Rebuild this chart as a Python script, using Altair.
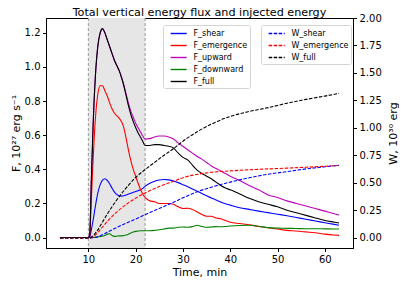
import altair as alt
import pandas as pd

# ---- data ----
t_F = [4, 10, 10.3, 10.6, 11, 11.5, 12, 12.5, 13, 13.5, 14, 14.5, 15, 15.5, 16, 16.5, 17, 17.5,
       18, 18.5, 19, 19.5, 20, 20.5, 21, 21.5, 22, 23, 24, 25, 26, 27, 28, 29, 30, 31, 32, 33,
       34, 35, 36, 37, 38, 39, 40, 42, 44, 46, 48, 50, 52, 54, 56, 58, 60, 62, 63]

F_shear = [0, 0, 0.005, 0.04, 0.10, 0.185, 0.26, 0.31, 0.337, 0.345, 0.335, 0.315, 0.29, 0.268,
           0.253, 0.245, 0.243, 0.245, 0.25, 0.255, 0.26, 0.265, 0.27, 0.275, 0.28, 0.288, 0.30,
           0.318, 0.33, 0.337, 0.34, 0.338, 0.332, 0.322, 0.31, 0.298, 0.285, 0.272, 0.258, 0.245,
           0.232, 0.22, 0.208, 0.198, 0.19, 0.175, 0.165, 0.155, 0.146, 0.137, 0.128, 0.118, 0.107,
           0.097, 0.087, 0.077, 0.072]

F_emergence = [0, 0, 0.01, 0.2, 0.45, 0.70, 0.84, 0.89, 0.89, 0.86, 0.83, 0.79, 0.755, 0.73,
               0.715, 0.70, 0.68, 0.645, 0.58, 0.51, 0.45, 0.40, 0.36, 0.32, 0.285, 0.255, 0.235,
               0.215, 0.21, 0.20, 0.20, 0.20, 0.195, 0.18, 0.17, 0.172, 0.165, 0.15, 0.135, 0.125,
               0.125, 0.115, 0.11, 0.10, 0.09, 0.082, 0.075, 0.065, 0.057, 0.05, 0.042, 0.038,
               0.033, 0.028, 0.02, 0.015, 0.013]

F_upward = [0, 0, 0.02, 0.30, 0.65, 0.95, 1.12, 1.20, 1.225, 1.20, 1.16, 1.12, 1.08, 1.04,
            1.01, 0.98, 0.94, 0.895, 0.84, 0.785, 0.74, 0.705, 0.67, 0.645, 0.62, 0.595, 0.578,
            0.58, 0.59, 0.595, 0.595, 0.59, 0.578, 0.555, 0.535, 0.515, 0.495, 0.475, 0.46, 0.44,
            0.42, 0.405, 0.39, 0.375, 0.36, 0.335, 0.305, 0.28, 0.25, 0.235, 0.215, 0.20, 0.185,
            0.17, 0.155, 0.14, 0.132]

F_downward = [0, 0, 0, 0, 0, 0.002, 0.004, 0.006, 0.008, 0.012, 0.02, 0.022, 0.012, 0.007,
              0.008, 0.01, 0.01, 0.012, 0.015, 0.02, 0.027, 0.032, 0.036, 0.038, 0.04, 0.04, 0.04,
              0.04, 0.042, 0.046, 0.05, 0.055, 0.055, 0.06, 0.062, 0.06, 0.064, 0.072, 0.065, 0.06,
              0.062, 0.064, 0.063, 0.065, 0.068, 0.071, 0.072, 0.066, 0.058, 0.055, 0.054, 0.053,
              0.052, 0.052, 0.051, 0.05, 0.05]

F_full = [0, 0, 0.02, 0.30, 0.65, 0.95, 1.12, 1.20, 1.225, 1.20, 1.16, 1.12, 1.08, 1.04,
          1.01, 0.98, 0.94, 0.89, 0.83, 0.77, 0.72, 0.68, 0.645, 0.615, 0.59, 0.565, 0.54,
          0.54, 0.545, 0.545, 0.54, 0.535, 0.525, 0.495, 0.47, 0.455, 0.425, 0.395, 0.375, 0.36,
          0.345, 0.325, 0.305, 0.29, 0.28, 0.255, 0.23, 0.21, 0.195, 0.18, 0.16, 0.145, 0.13,
          0.115, 0.10, 0.09, 0.085]

t_W = [4, 10, 11, 12, 13, 14, 16, 18, 20, 22, 24, 26, 28, 30, 33, 36, 40, 44, 48, 52, 56, 60, 63]
W_shear = [0, 0, 0.003, 0.012, 0.03, 0.052, 0.095, 0.135, 0.172, 0.212, 0.25, 0.287, 0.325,
           0.365, 0.42, 0.462, 0.508, 0.547, 0.58, 0.603, 0.628, 0.647, 0.661]
W_emergence = [0, 0, 0.012, 0.05, 0.10, 0.15, 0.235, 0.305, 0.362, 0.41, 0.45, 0.485, 0.515,
               0.548, 0.578, 0.597, 0.61, 0.62, 0.628, 0.635, 0.643, 0.652, 0.66]
W_full = [0, 0, 0.02, 0.074, 0.145, 0.217, 0.345, 0.455, 0.55, 0.622, 0.687, 0.752, 0.812,
          0.88, 0.965, 1.035, 1.105, 1.15, 1.185, 1.225, 1.26, 1.29, 1.315]

F_names = ["F_shear", "F_emergence", "F_upward", "F_downward", "F_full"]
F_colors = ["#0000ff", "#ff0000", "#bf00bf", "#008000", "#000000"]
W_names = ["W_shear", "W_emergence", "W_full"]
W_colors = ["#0000ff", "#ff0000", "#000000"]

title_text = "Total vertical energy flux and injected energy"
span = [10, 22]
x_ticks = [10, 20, 30, 40, 50, 60]
F_ticks = [0.0, 0.2, 0.4, 0.6, 0.8, 1.0, 1.2]
W_ticks = [0.0, 0.25, 0.5, 0.75, 1.0, 1.25, 1.5, 1.75, 2.0]

# ---- tables ----
F_series = [F_shear, F_emergence, F_upward, F_downward, F_full]
W_series = [W_shear, W_emergence, W_full]
dfF = pd.DataFrame([{"t": t, "v": v, "s": n, "o": i}
                    for i, (n, vals) in enumerate(zip(F_names, F_series))
                    for t, v in zip(t_F, vals)])
dfW = pd.DataFrame([{"t": t, "v": v, "s": n, "o": i}
                    for i, (n, vals) in enumerate(zip(W_names, W_series))
                    for t, v in zip(t_W, vals)])
dfSpan = pd.DataFrame({"a": [span[0]], "b": [span[1]]})
dfEdges = pd.DataFrame({"t": span})
dfTitle = pd.DataFrame({"label": [title_text]})

W_PX, H_PX = 307, 230
FONT = "DejaVu Sans"
xscale = alt.Scale(domain=[1.05, 65.95], nice=False, zero=False)
xaxis = alt.Axis(values=x_ticks, title="Time, min", format="d", grid=False,
                 titleY=27, titleBaseline="alphabetic")

shade = alt.Chart(dfSpan).mark_rect(color="#e6e6e6").encode(
    x=alt.X("a:Q", scale=xscale, axis=xaxis), x2="b:Q")

edges = alt.Chart(dfEdges).mark_rule(color="#999999", strokeDash=[3, 2], strokeWidth=1).encode(
    x=alt.X("t:Q", scale=xscale, axis=xaxis))

legend_common = dict(title=None, orient="none", symbolType="M-1.6,0H1.6", symbolSize=100,
                     symbolStrokeWidth=1.4, labelFontSize=8, labelFont=FONT,
                     fillColor="white", strokeColor="#d5d5d5", cornerRadius=2,
                     padding=2.5, rowPadding=2, symbolOffset=7.2, labelOffset=8.7,
                     labelLimit=200)

Flines = alt.Chart(dfF).mark_line(strokeWidth=1.1, interpolate="monotone").encode(
    x=alt.X("t:Q", scale=xscale, axis=xaxis),
    y=alt.Y("v:Q", scale=alt.Scale(domain=[-0.0613, 1.2873], nice=False, zero=False),
            axis=alt.Axis(orient="left", values=F_ticks, format=".1f", grid=False,
                          title="F, 10²⁷ erg s⁻¹", titleX=-27, titleY=115,
                          titleAngle=270, titleBaseline="alphabetic", titleAlign="center")),
    color=alt.Color("s:N", scale=alt.Scale(domain=F_names, range=F_colors),
                    legend=alt.Legend(legendX=117, legendY=7, **legend_common)),
    order="o:Q",
)

Wlines = alt.Chart(dfW).mark_line(strokeWidth=1.1, strokeDash=[3.5, 1.5],
                                  interpolate="monotone").encode(
    x=alt.X("t:Q", scale=xscale, axis=xaxis),
    y=alt.Y("v:Q", scale=alt.Scale(domain=[-0.091, 2.0], nice=False, zero=False),
            axis=alt.Axis(orient="right", values=W_ticks, format=".2f", grid=False,
                          title="W, 10³⁰ erg", titleX=43, titleY=115,
                          titleAngle=270, titleBaseline="alphabetic", titleAlign="center")),
    color=alt.Color("s:N", scale=alt.Scale(domain=W_names, range=W_colors),
                    legend=alt.Legend(legendX=215, legendY=7, symbolDash=[3.5, 1.5],
                                      **legend_common)),
    order="o:Q",
)

title_mark = alt.Chart(dfTitle).mark_text(
    font=FONT, fontSize=11.2, color="black", align="center", baseline="alphabetic"
).encode(text="label:N", x=alt.value(W_PX / 2), y=alt.value(-2.4))

chart = alt.layer(shade, edges, Flines, Wlines, title_mark).resolve_scale(
    y="independent", color="independent"
).properties(
    width=W_PX, height=H_PX,
    autosize=alt.AutoSizeParams(type="none"),
    padding={"left": 38, "top": 10, "right": 46, "bottom": 29},
).configure_view(stroke="black", strokeWidth=1).configure_axis(
    labelFont=FONT, titleFont=FONT, labelFontSize=10, titleFontSize=11,
    titleFontWeight="normal", labelColor="black", titleColor="black",
    domainColor="black", tickColor="black", tickSize=3.5, labelPadding=2.5,
    domainWidth=1, tickWidth=1,
).configure_legend(labelColor="black")

chart.save("out.html", embed_options={"renderer": "svg", "actions": False})
